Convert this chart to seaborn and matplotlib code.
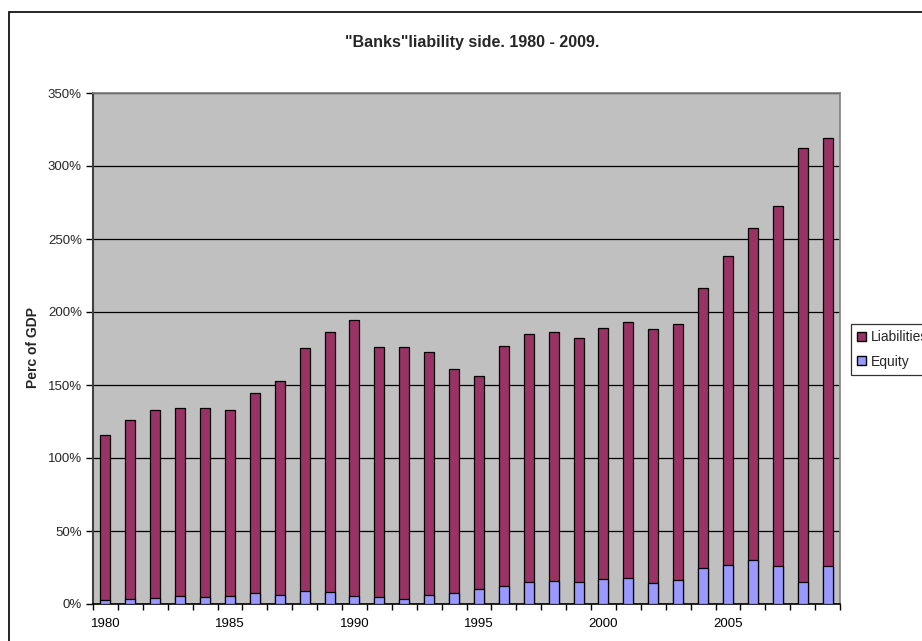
import numpy as np
import pandas as pd
import matplotlib
matplotlib.use("Agg")
import matplotlib.pyplot as plt
import matplotlib.patches as mpatches
from matplotlib.ticker import FixedLocator, FuncFormatter
import seaborn as sns

years = list(range(1980, 2010))
equity = [2.7, 3.4, 4.1, 5.7, 5.0, 5.7, 7.3, 6.4, 8.9, 8.2,
          5.7, 5.0, 3.2, 6.4, 7.3, 10.0, 12.5, 14.8, 15.5, 14.8,
          16.9, 17.8, 14.1, 16.2, 24.4, 26.7, 29.9, 26.0, 15.0, 26.0]
liabilities = [112.8, 122.8, 128.8, 128.8, 129.5, 127.2, 137.0, 146.1, 166.2, 178.3,
               188.6, 171.0, 172.8, 166.4, 153.4, 146.2, 164.2, 170.1, 171.0, 167.2,
               171.9, 175.4, 174.0, 175.6, 192.0, 211.7, 227.4, 246.8, 297.1, 293.0]
yticks = [0, 50, 100, 150, 200, 250, 300, 350]
xlabel_years = [1980, 1985, 1990, 1995, 2000, 2005]

title = '"Banks"liability side. 1980 - 2009.'
ylabel = "Perc of GDP"
c_liab = "#993366"
c_eq = "#9999FF"

sns.set_theme(style="white")
plt.rcParams['font.family'] = ['Liberation Sans', 'DejaVu Sans']

df = pd.DataFrame({"year": [str(y) for y in years],
                   "equity": equity,
                   "liabilities": liabilities})
df["total"] = df["equity"] + df["liabilities"]

W, H = 922, 641
fig = plt.figure(figsize=(W / 100, H / 100), dpi=100)
ax = fig.add_axes([93 / W, (H - 604) / H, (840 - 93) / W, (604 - 93) / H])
ax.set_facecolor("#C0C0C0")

sns.barplot(data=df, x="year", y="total", color=c_liab, width=0.4,
            edgecolor="black", linewidth=0.9, saturation=1, ax=ax, zorder=3)
sns.barplot(data=df, x="year", y="equity", color=c_eq, width=0.4,
            edgecolor="black", linewidth=0.9, saturation=1, ax=ax, zorder=4)

ax.set_xlim(-0.5, len(years) - 0.5)
ax.set_ylim(0, 350)
ax.set_yticks(yticks)
ax.yaxis.set_major_formatter(FuncFormatter(lambda v, p: f"{int(v)}%"))
ax.grid(axis="y", color="black", linewidth=0.9, zorder=1)
ax.set_axisbelow(True)

pos = [years.index(y) for y in xlabel_years]
ax.set_xticks(pos)
ax.set_xticklabels([str(y) for y in xlabel_years])
ax.xaxis.set_minor_locator(FixedLocator(np.arange(-0.5, len(years), 1.0)))
ax.tick_params(axis="x", which="major", length=0, pad=10, labelsize=9.5, colors="black")
ax.tick_params(axis="x", which="minor", length=4, width=1, color="black", bottom=True)
ax.tick_params(axis="y", which="major", length=5, width=1, color="black", pad=3,
               labelsize=9.5, left=True)
ax.set_xlabel("")
ax.set_ylabel("")

for s in ["top", "right"]:
    ax.spines[s].set_color("#808080")
    ax.spines[s].set_linewidth(1.2)
ax.spines["left"].set_color("#404040")
ax.spines["left"].set_linewidth(1.5)
ax.spines["bottom"].set_color("black")
ax.spines["bottom"].set_linewidth(1.2)

fig.text(472 / W, (H - 42) / H, title, ha="center", va="center",
         fontsize=11.5, fontweight="bold")
fig.text(33 / W, (H - 348) / H, ylabel, ha="center", va="center",
         rotation=90, fontsize=10, fontweight="bold")

handles = [mpatches.Patch(facecolor=c_liab, edgecolor="black", label="Liabilities"),
           mpatches.Patch(facecolor=c_eq, edgecolor="black", label="Equity")]
leg = fig.legend(handles=handles, loc="upper left",
                 bbox_to_anchor=(851 / W, (H - 324) / H),
                 fontsize=10, frameon=True, fancybox=False,
                 handlelength=0.6, handleheight=0.6, handletextpad=0.35,
                 borderpad=0.45, labelspacing=0.75, borderaxespad=0)
leg.get_frame().set_edgecolor("black")
leg.get_frame().set_linewidth(0.9)

border = mpatches.Rectangle((9 / W, -0.1), 2, (H - 12) / H + 0.1,
                            transform=fig.transFigure, fill=False,
                            edgecolor="black", linewidth=1.2, clip_on=False)
fig.add_artist(border)

fig.savefig("out.png", dpi=100)
